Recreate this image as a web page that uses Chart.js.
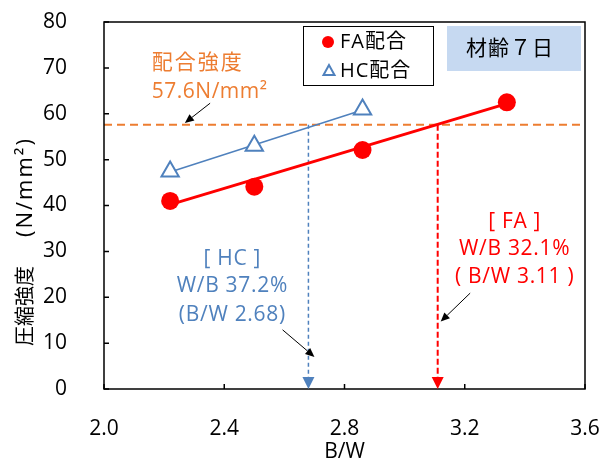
<!DOCTYPE html>
<html>
<head>
<meta charset="utf-8">
<script src="https://cdn.jsdelivr.net/npm/chart.js@4.4.1/dist/chart.umd.min.js"></script>
<style>
  html, body { margin: 0; padding: 0; background: #ffffff; }
  #wrap { width: 599px; height: 465px; }
</style>
</head>
<body>
<div id="wrap"><canvas id="chart" width="599" height="465"></canvas></div>
<script>
// Axis ticks
const xTickValues = [2.0, 2.4, 2.8, 3.2, 3.6];
const yTickValues = [0, 10, 20, 30, 40, 50, 60, 70, 80];

// Measured compressive strength at 7 days
const faBW = [2.22, 2.50, 2.86, 3.34];
const faStrength = [41.0, 44.1, 52.1, 62.5];
const hcBW = [2.22, 2.50, 2.86];
const hcStrength = [47.4, 53.0, 60.9];

// Fitted straight lines (end points)
const faFitBW = [2.22, 3.34];
const faFitStrength = [40.2, 62.2];
const hcFitBW = [2.22, 2.86];
const hcFitStrength = [47.3, 60.8];

// Required mix strength and the B/W values that reach it
const targetStrength = 57.6;
const hcTargetBW = 2.68;
const faTargetBW = 3.11;

// Text
const seriesNames = ['FA配合', 'HC配合'];
const targetLabel = ['配合強度', '57.6N/mm²'];
const hcNote = ['[ HC ]', 'W/B 37.2%', '(B/W 2.68)'];
const faNote = ['[ FA ]', 'W/B 32.1%', '( B/W 3.11 )'];
const ageLabel = '材齢７日';
const yTitle = ['圧縮強度', '(N/mm²)'];
const xTitle = 'B/W';

const RED = '#FF0000';
const BLUE = '#4F81BD';
const ORANGE = '#ED7D31';
const FONT = "'Open Sans', 'Noto Sans CJK JP', sans-serif";

const pts = (xs, ys) => xs.map((x, i) => ({ x: x, y: ys[i] }));

function drawText(ctx, text, x, y, size, color, align, spacing) {
  ctx.save();
  ctx.font = size + 'px ' + FONT;
  ctx.fillStyle = color;
  ctx.textAlign = align || 'center';
  ctx.textBaseline = 'middle';
  ctx.letterSpacing = (spacing || 0) + 'px';
  ctx.fillText(text, x, y);
  ctx.restore();
}

function arrow(ctx, x1, y1, x2, y2, color, width, headLen, headHalf) {
  const ang = Math.atan2(y2 - y1, x2 - x1);
  const bx = x2 - Math.cos(ang) * headLen;
  const by = y2 - Math.sin(ang) * headLen;
  ctx.save();
  ctx.strokeStyle = color;
  ctx.fillStyle = color;
  ctx.lineWidth = width;
  ctx.beginPath();
  ctx.moveTo(x1, y1);
  ctx.lineTo(bx, by);
  ctx.stroke();
  ctx.beginPath();
  ctx.moveTo(x2, y2);
  ctx.lineTo(bx - Math.sin(ang) * headHalf, by + Math.cos(ang) * headHalf);
  ctx.lineTo(bx + Math.sin(ang) * headHalf, by - Math.cos(ang) * headHalf);
  ctx.closePath();
  ctx.fill();
  ctx.restore();
}

const decor = {
  id: 'decor',
  afterDraw(chart) {
    const ctx = chart.ctx;
    const xs = chart.scales.x, ys = chart.scales.y;
    const a = chart.chartArea;
    const X = v => xs.getPixelForValue(v);
    const Y = v => ys.getPixelForValue(v);

    // frame and inward tick marks
    ctx.save();
    ctx.strokeStyle = '#000';
    ctx.lineWidth = 1.5;
    ctx.strokeRect(a.left, a.top, a.right - a.left, a.bottom - a.top);
    ctx.beginPath();
    yTickValues.forEach(v => { ctx.moveTo(a.left, Y(v)); ctx.lineTo(a.left + 5, Y(v)); });
    xTickValues.forEach(v => { ctx.moveTo(X(v), a.bottom); ctx.lineTo(X(v), a.bottom - 5); });
    ctx.stroke();
    ctx.restore();

    // arrow heads at the foot of the guide lines
    [[hcTargetBW, BLUE], [faTargetBW, RED]].forEach(([v, c]) => {
      ctx.save();
      ctx.fillStyle = c;
      ctx.beginPath();
      ctx.moveTo(X(v), a.bottom);
      ctx.lineTo(X(v) - 6, a.bottom - 12);
      ctx.lineTo(X(v) + 6, a.bottom - 12);
      ctx.closePath();
      ctx.fill();
      ctx.restore();
    });

    // pointer arrows
    arrow(ctx, X(2.353), Y(62.3), X(2.269), Y(58.0), '#000', 1, 9, 4);
    arrow(ctx, X(2.594), Y(12.9), X(2.700), Y(7.0), '#000', 1, 9, 4);
    arrow(ctx, X(3.218), Y(20.9), X(3.120), Y(14.7), '#000', 1, 9, 4);

    // required strength label
    drawText(ctx, targetLabel[0], X(2.159), Y(71.0), 21, ORANGE, 'left', 2);
    drawText(ctx, targetLabel[1], X(2.159), Y(64.7), 21, ORANGE, 'left', 0.5);

    // result notes
    [28.3, 22.5, 16.1].forEach((v, i) => drawText(ctx, hcNote[i], X(2.427), Y(v), 21, BLUE, 'center', 0.7));
    [36.4, 30.5, 24.5].forEach((v, i) => drawText(ctx, faNote[i], X(3.366), Y(v), 21, RED, 'center', 0.7));

    // legend box
    ctx.save();
    ctx.fillStyle = '#fff';
    ctx.fillRect(303, 26, 131, 60);
    ctx.strokeStyle = '#000';
    ctx.lineWidth = 1;
    ctx.strokeRect(303.5, 26.5, 130, 59);
    ctx.fillStyle = RED;
    ctx.beginPath();
    ctx.arc(328, 42, 6, 0, Math.PI * 2);
    ctx.fill();
    ctx.strokeStyle = BLUE;
    ctx.lineWidth = 2;
    ctx.beginPath();
    ctx.moveTo(329, 65);
    ctx.lineTo(323.5, 75);
    ctx.lineTo(334.5, 75);
    ctx.closePath();
    ctx.stroke();
    ctx.restore();
    drawText(ctx, seriesNames[0], 340, 42, 20, '#000', 'left', 1);
    drawText(ctx, seriesNames[1], 340, 71, 20, '#000', 'left', 1);

    // age box
    ctx.save();
    ctx.fillStyle = '#C6D9F1';
    ctx.fillRect(447, 26, 134, 45);
    ctx.restore();
    drawText(ctx, ageLabel, 510, 49, 21, '#000', 'center', 1);

    // vertical axis title
    ctx.save();
    ctx.translate(26, 237);
    ctx.rotate(-Math.PI / 2);
    drawText(ctx, yTitle[0], -69, 0, 20, '#000', 'center', 0);
    drawText(ctx, yTitle[1], 50, 0, 22, '#000', 'center', 2);
    ctx.restore();
  }
};

new Chart(document.getElementById('chart'), {
  type: 'scatter',
  data: {
    datasets: [
      {
        label: seriesNames[0],
        data: pts(faBW, faStrength),
        pointStyle: 'circle',
        pointRadius: 9,
        backgroundColor: RED,
        borderColor: RED,
        borderWidth: 0
      },
      {
        label: seriesNames[1],
        data: pts(hcBW, hcStrength),
        pointStyle: 'triangle',
        pointRadius: 10,
        backgroundColor: '#fff',
        borderColor: BLUE,
        borderWidth: 2
      },
      {
        data: pts(faFitBW, faFitStrength),
        showLine: true, pointRadius: 0,
        borderColor: RED, borderWidth: 3
      },
      {
        data: pts(hcFitBW, hcFitStrength),
        showLine: true, pointRadius: 0,
        borderColor: BLUE, borderWidth: 1.5
      },
      {
        data: pts([2.0, 3.6], [targetStrength, targetStrength]),
        showLine: true, pointRadius: 0,
        borderColor: ORANGE, borderWidth: 2, borderDash: [8, 5]
      },
      {
        data: pts([hcTargetBW, hcTargetBW], [targetStrength, 2.5]),
        showLine: true, pointRadius: 0,
        borderColor: BLUE, borderWidth: 1.5, borderDash: [4, 3]
      },
      {
        data: pts([faTargetBW, faTargetBW], [targetStrength, 2.5]),
        showLine: true, pointRadius: 0,
        borderColor: RED, borderWidth: 2, borderDash: [6, 3]
      }
    ]
  },
  options: {
    responsive: false,
    animation: false,
    devicePixelRatio: 1,
    layout: { padding: { top: 22, right: 14, left: 0, bottom: 0 } },
    plugins: { legend: { display: false }, tooltip: { enabled: false } },
    scales: {
      x: {
        type: 'linear', min: 2.0, max: 3.6,
        afterFit: s => { s.height = 76; s.paddingLeft = 0; s.paddingRight = 0; },
        afterBuildTicks: s => { s.ticks = xTickValues.map(v => ({ value: v })); },
        grid: { display: false },
        border: { display: false },
        ticks: { padding: 19, color: '#000', font: { family: FONT, size: 21 }, callback: v => v.toFixed(1) },
        title: { display: true, text: xTitle, color: '#000', font: { family: FONT, size: 21 }, padding: 0 }
      },
      y: {
        type: 'linear', min: 0, max: 80,
        afterFit: s => { s.width = 104; s.paddingTop = 0; s.paddingBottom = 0; },
        afterBuildTicks: s => { s.ticks = yTickValues.map(v => ({ value: v })); },
        grid: { display: false },
        border: { display: false },
        ticks: { padding: 29, color: '#000', font: { family: FONT, size: 21 } }
      }
    }
  },
  plugins: [decor]
});
</script>
</body>
</html>
